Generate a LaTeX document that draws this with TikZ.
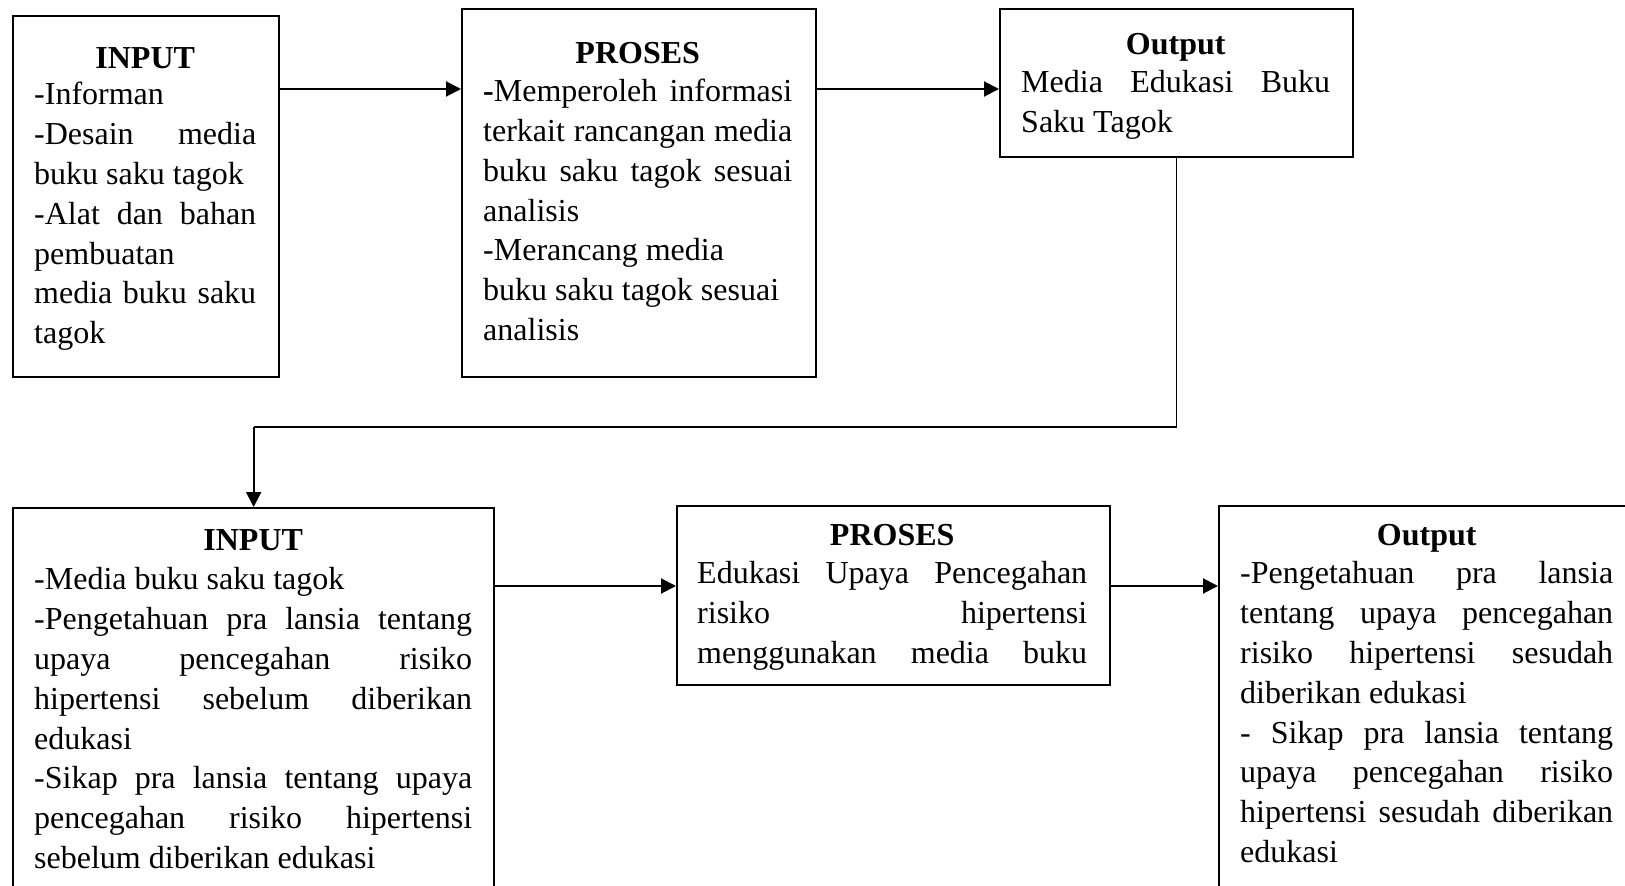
\documentclass[tikz,border=0pt]{standalone}
\usepackage{fontspec}
\setmainfont{Liberation Serif}
\usetikzlibrary{arrows.meta}

\newcommand{\flowfont}{\fontsize{32}{39.8}\selectfont
    \setlength{\parindent}{0pt}\tolerance=10000 \hyphenpenalty=10000 \hbadness=10000 \hfuzz=20pt\relax}

\tikzset{
    box/.style={draw, rectangle, line width=2.3pt, anchor=north west, inner sep=0pt},
    txt/.style={anchor=base west, inner sep=0pt, align=justify, font=\flowfont},
    arr/.style={line width=2pt, -{Triangle[length=15pt,width=15pt]}},
}

\begin{document}
\begin{tikzpicture}[x=1pt, y=-1pt]
        \clip (0,0) rectangle (1625,886);

        % Add the boxes
        \node[box, minimum width=266pt, minimum height=361pt] (in1)  at (12,15)   {};
        \node[box, minimum width=354pt, minimum height=368pt] (pr1)  at (461,8)   {};
        \node[box, minimum width=353pt, minimum height=148pt] (out1) at (999,8)   {};
        \node[box, minimum width=481pt, minimum height=400pt] (in2)  at (12,507)  {};
        \node[box, minimum width=433pt, minimum height=179pt] (pr2)  at (676,505) {};
        \node[box, minimum width=420pt, minimum height=400pt] (out2) at (1218,505) {};

        % Add the texts
        \node[txt, text width=222pt] (in1t) at ([shift={(22,53)}]in1.north west) {%
            {\centering\bfseries INPUT\par}\vspace{-3pt}
            -Informan\\
            -Desain media\linebreak buku saku tagok\\
            -Alat dan bahan\linebreak pembuatan\\
            media buku saku\linebreak tagok};
        \node[txt, text width=309pt] (pr1t) at ([shift={(22,55)}]pr1.north west) {%
            {\centering\bfseries PROSES\par}\vspace{-1pt}
            \textbf{-}Memperoleh informasi\linebreak terkait rancangan media\linebreak
            buku saku tagok sesuai\linebreak analisis\\
            -Merancang media\\
            buku saku tagok sesuai\\
            analisis};
        \node[txt, text width=309pt] (out1t) at ([shift={(22,46)}]out1.north west) {%
            {\centering\bfseries Output\par}\vspace{-1pt}
            Media Edukasi Buku\linebreak Saku Tagok};
        \node[txt, text width=438pt] (in2t) at ([shift={(22,43)}]in2.north west) {%
            {\centering\bfseries INPUT\par}
            -Media buku saku tagok\\
            -Pengetahuan pra lansia tentang\linebreak upaya pencegahan risiko\linebreak
            hipertensi sebelum diberikan\linebreak edukasi\\
            -Sikap pra lansia tentang upaya\linebreak pencegahan risiko hipertensi\linebreak
            sebelum diberikan edukasi};
        \node[txt, text width=390pt] (pr2t) at ([shift={(21,40)}]pr2.north west) {%
            {\centering\bfseries PROSES\par}\vspace{-1pt}
            Edukasi Upaya Pencegahan\linebreak risiko hipertensi\linebreak
            menggunakan media buku{\parfillskip=0pt\par}};
        \node[txt, text width=373pt] (out2t) at ([shift={(22,40)}]out2.north west) {%
            {\centering\bfseries Output\par}\vspace{-1pt}
            -Pengetahuan pra lansia\linebreak tentang upaya pencegahan\linebreak
            risiko hipertensi sesudah\linebreak diberikan edukasi\\
            - Sikap pra lansia tentang\linebreak upaya pencegahan risiko\linebreak
            hipertensi sesudah diberikan\linebreak edukasi};

        % Add the arrows
        \coordinate (row1) at (0,89);
        \coordinate (row2) at (0,586);
        \coordinate (turn) at (0,427);
        \draw[arr] (in1.east |- row1) -- (pr1.west |- row1);
        \draw[arr] (pr1.east |- row1) -- (out1.west |- row1);
        \draw[line width=1.4pt] (out1.south) -- (out1.south |- turn) -- (in2.north |- turn);
        \draw[arr] (in2.north |- turn) -- (in2.north);
        \draw[arr] (in2.east |- row2) -- (pr2.west |- row2);
        \draw[arr] (pr2.east |- row2) -- (out2.west |- row2);
    \end{tikzpicture}
\end{document}
